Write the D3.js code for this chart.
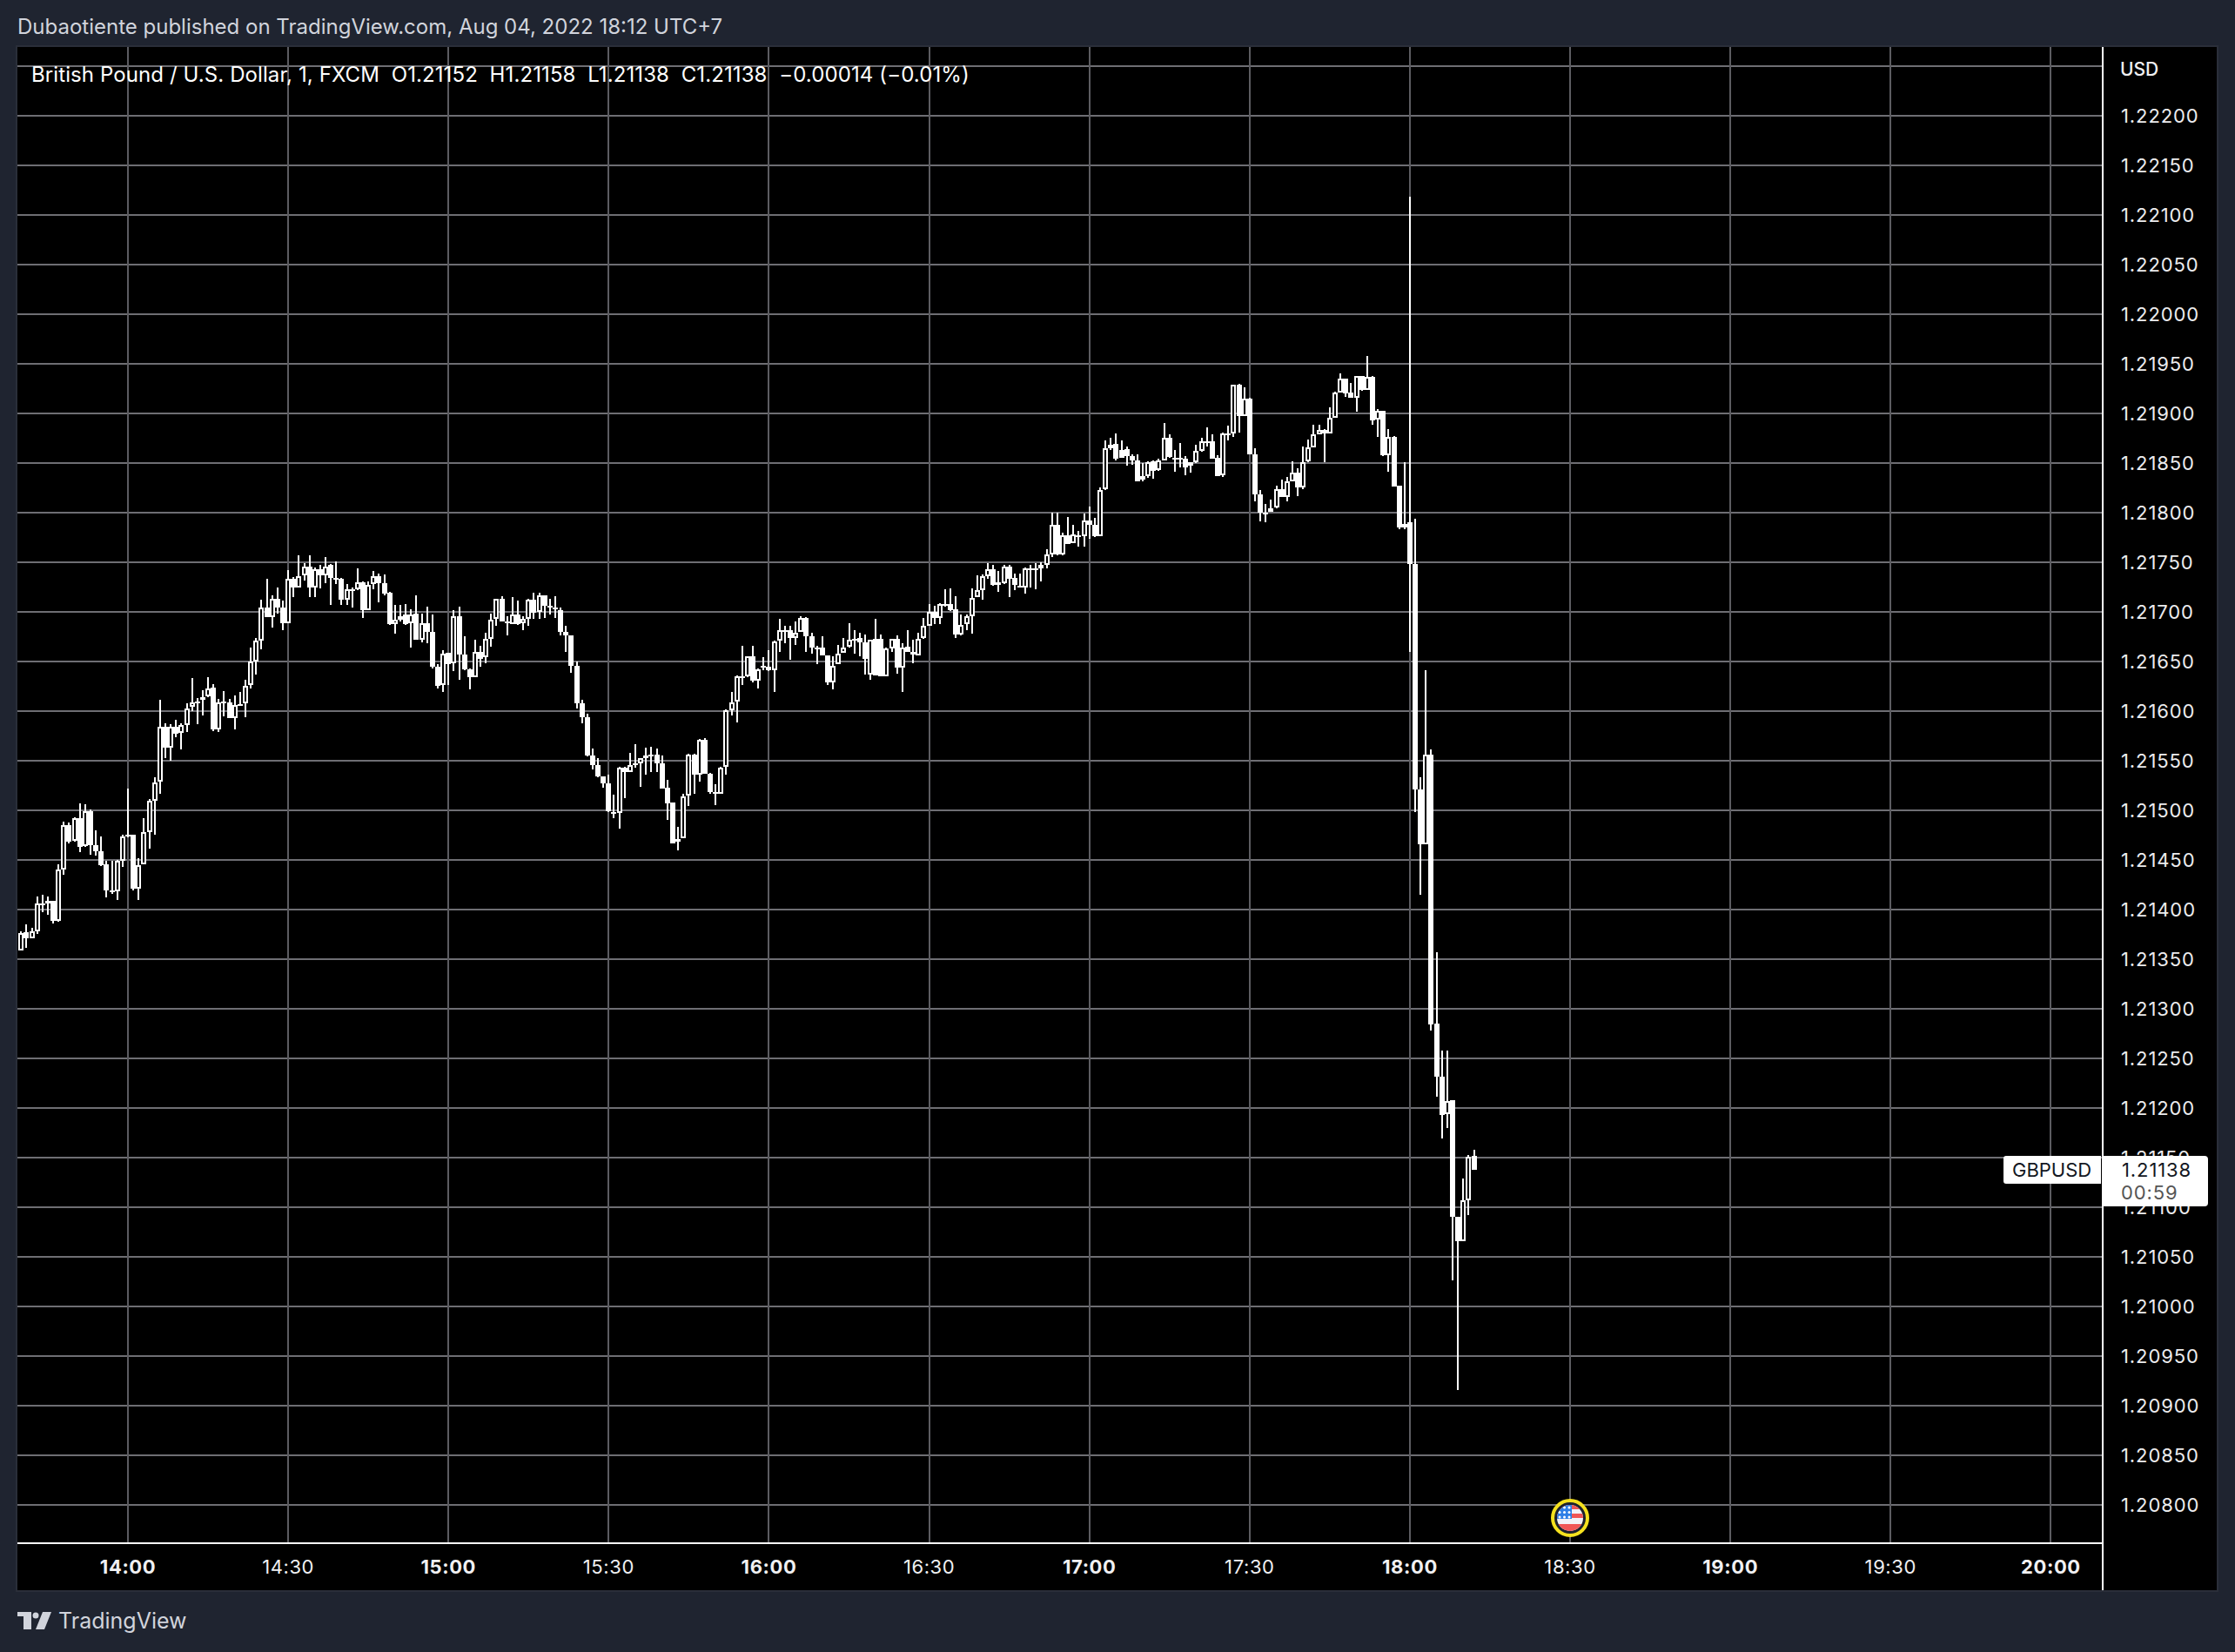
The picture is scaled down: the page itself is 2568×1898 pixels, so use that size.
<!DOCTYPE html>
<html lang="en">

<head>
    <meta charset="utf-8">
    <script src="https://d3js.org/d3.v7.min.js"></script>
    <style>
        body { margin: 0; background: #1f2430; }
        text { font-family: Inter, "Noto Sans", sans-serif; white-space: pre; }
    </style>
</head>

<body>

    <script>

        // one bar a minute, first bar is 20 minutes before 14:00
        const firstMinute = -20;

        const opens = [
            1.21359,1.21377,1.21371,1.21378,1.21406,1.21409,1.21409,1.21389,1.21440,1.21485,
            1.21469,1.21492,1.21464,1.21499,1.21465,1.21459,1.21446,1.21419,1.21418,1.21449,
            1.21474,1.21475,1.21421,1.21446,1.21478,1.21510,1.21529,1.21584,1.21563,1.21584,
            1.21578,1.21586,1.21604,1.21609,1.21611,1.21615,1.21624,1.21582,1.21609,1.21609,
            1.21593,1.21606,1.21608,1.21626,1.21650,1.21671,1.21704,1.21695,1.21713,1.21704,
            1.21689,1.21733,1.21725,1.21737,1.21746,1.21725,1.21743,1.21737,1.21747,1.21734,
            1.21733,1.21712,1.21723,1.21723,1.21730,1.21702,1.21728,1.21736,1.21729,1.21719,
            1.21688,1.21692,1.21697,1.21689,1.21698,1.21672,1.21689,1.21680,1.21645,1.21626,
            1.21659,1.21648,1.21696,1.21657,1.21642,1.21634,1.21660,1.21654,1.21673,1.21693,
            1.21713,1.21690,1.21688,1.21697,1.21689,1.21693,1.21712,1.21700,1.21717,1.21706,
            1.21704,1.21702,1.21680,1.21676,1.21646,1.21608,1.21594,1.21555,1.21546,1.21534,
            1.21527,1.21498,1.21497,1.21543,1.21539,1.21546,1.21547,1.21553,1.21555,1.21556,
            1.21547,1.21523,1.21508,1.21468,1.21472,1.21515,1.21556,1.21536,1.21571,1.21537,
            1.21518,1.21517,1.21544,1.21601,1.21610,1.21635,1.21635,1.21655,1.21631,1.21646,
            1.21645,1.21641,1.21671,1.21682,1.21682,1.21674,1.21680,1.21694,1.21675,1.21664,
            1.21664,1.21656,1.21629,1.21647,1.21659,1.21665,1.21673,1.21674,1.21669,1.21637,
            1.21673,1.21673,1.21635,1.21663,1.21673,1.21644,1.21665,1.21660,1.21656,1.21674,
            1.21686,1.21700,1.21694,1.21708,1.21708,1.21703,1.21677,1.21688,1.21696,1.21715,
            1.21722,1.21736,1.21743,1.21727,1.21729,1.21746,1.21734,1.21726,1.21725,1.21744,
            1.21744,1.21747,1.21747,1.21758,1.21788,1.21758,1.21777,1.21769,1.21777,1.21776,
            1.21792,1.21788,1.21776,1.21824,1.21865,1.21869,1.21863,1.21864,1.21857,1.21853,
            1.21833,1.21837,1.21852,1.21843,1.21853,1.21875,1.21855,1.21855,1.21854,1.21847,
            1.21851,1.21862,1.21872,1.21872,1.21855,1.21838,1.21880,1.21880,1.21929,1.21897,
            1.21915,1.21859,1.21818,1.21800,1.21801,1.21805,1.21824,1.21816,1.21832,1.21840,
            1.21825,1.21852,1.21866,1.21879,1.21883,1.21880,1.21896,1.21921,1.21935,1.21921,
            1.21916,1.21938,1.21924,1.21937,1.21894,1.21903,1.21858,1.21876,1.21827,1.21785,
            1.21790,1.21748,1.21521,1.21466,1.21556,1.21285,1.21232,1.21194,1.21208,1.21090,1.21066,1.21107,1.21152
        ];

        const highs = [
            1.21378,1.21385,1.21382,1.21413,1.21415,1.21413,1.21409,1.21446,1.21489,1.21488,
            1.21493,1.21507,1.21506,1.21501,1.21480,1.21474,1.21449,1.21449,1.21450,1.21475,
            1.21522,1.21475,1.21452,1.21492,1.21511,1.21533,1.21611,1.21588,1.21587,1.21591,
            1.21588,1.21608,1.21633,1.21613,1.21621,1.21634,1.21627,1.21612,1.21620,1.21612,
            1.21616,1.21619,1.21632,1.21664,1.21674,1.21712,1.21733,1.21717,1.21725,1.21711,
            1.21742,1.21735,1.21757,1.21749,1.21757,1.21745,1.21747,1.21755,1.21748,1.21751,
            1.21734,1.21728,1.21725,1.21744,1.21731,1.21731,1.21741,1.21739,1.21738,1.21720,
            1.21707,1.21707,1.21708,1.21703,1.21717,1.21698,1.21705,1.21697,1.21647,1.21661,
            1.21659,1.21702,1.21705,1.21675,1.21643,1.21672,1.21666,1.21679,1.21698,1.21713,
            1.21716,1.21696,1.21715,1.21711,1.21696,1.21713,1.21719,1.21719,1.21717,1.21713,
            1.21716,1.21704,1.21686,1.21676,1.21650,1.21611,1.21597,1.21562,1.21553,1.21534,
            1.21536,1.21516,1.21544,1.21544,1.21558,1.21567,1.21553,1.21563,1.21564,1.21562,
            1.21555,1.21531,1.21508,1.21483,1.21517,1.21557,1.21557,1.21572,1.21573,1.21538,
            1.21526,1.21544,1.21602,1.21619,1.21636,1.21666,1.21655,1.21666,1.21643,1.21654,
            1.21661,1.21671,1.21693,1.21686,1.21686,1.21690,1.21696,1.21695,1.21679,1.21666,
            1.21675,1.21656,1.21655,1.21667,1.21674,1.21689,1.21682,1.21679,1.21677,1.21672,
            1.21693,1.21677,1.21664,1.21673,1.21676,1.21668,1.21682,1.21672,1.21679,1.21694,
            1.21708,1.21706,1.21709,1.21723,1.21724,1.21716,1.21697,1.21697,1.21724,1.21737,
            1.21738,1.21749,1.21747,1.21741,1.21747,1.21747,1.21739,1.21739,1.21745,1.21747,
            1.21749,1.21750,1.21763,1.21800,1.21800,1.21780,1.21796,1.21788,1.21782,1.21799,
            1.21806,1.21795,1.21825,1.21873,1.21875,1.21880,1.21873,1.21867,1.21859,1.21859,
            1.21850,1.21852,1.21853,1.21854,1.21890,1.21879,1.21863,1.21870,1.21857,1.21851,
            1.21868,1.21875,1.21886,1.21879,1.21858,1.21881,1.21888,1.21929,1.21930,1.21926,
            1.21916,1.21865,1.21823,1.21809,1.21813,1.21827,1.21833,1.21836,1.21852,1.21845,
            1.21867,1.21874,1.21889,1.21889,1.21884,1.21906,1.21922,1.21940,1.21935,1.21931,
            1.21938,1.21938,1.21958,1.21938,1.21904,1.21903,1.21884,1.21877,1.21827,1.21851,
            1.22118,1.21794,1.21533,1.21641,1.21561,1.21357,1.21258,1.21258,1.21208,1.21090,1.21129,1.21153,1.21158
        ];

        const lows = [
            1.21359,1.21361,1.21371,1.21375,1.21397,1.21395,1.21386,1.21388,1.21435,1.21467,
            1.21468,1.21458,1.21463,1.21455,1.21454,1.21444,1.21412,1.21416,1.21410,1.21443,
            1.21473,1.21419,1.21410,1.21446,1.21461,1.21475,1.21517,1.21553,1.21550,1.21574,
            1.21561,1.21579,1.21600,1.21587,1.21596,1.21614,1.21580,1.21579,1.21595,1.21593,
            1.21582,1.21605,1.21594,1.21623,1.21637,1.21662,1.21695,1.21684,1.21698,1.21682,
            1.21689,1.21715,1.21725,1.21732,1.21715,1.21715,1.21724,1.21729,1.21707,1.21728,
            1.21707,1.21707,1.21704,1.21722,1.21694,1.21702,1.21723,1.21710,1.21717,1.21687,
            1.21678,1.21690,1.21687,1.21664,1.21672,1.21669,1.21668,1.21643,1.21623,1.21619,
            1.21626,1.21640,1.21632,1.21641,1.21622,1.21634,1.21645,1.21648,1.21665,1.21686,
            1.21690,1.21676,1.21688,1.21687,1.21682,1.21686,1.21693,1.21693,1.21694,1.21697,
            1.21694,1.21676,1.21660,1.21639,1.21603,1.21588,1.21554,1.21541,1.21533,1.21523,
            1.21498,1.21492,1.21482,1.21512,1.21539,1.21543,1.21524,1.21536,1.21539,1.21539,
            1.21522,1.21490,1.21467,1.21460,1.21472,1.21504,1.21517,1.21529,1.21537,1.21517,
            1.21505,1.21517,1.21536,1.21596,1.21589,1.21626,1.21634,1.21629,1.21623,1.21641,
            1.21640,1.21619,1.21660,1.21668,1.21652,1.21667,1.21680,1.21660,1.21658,1.21647,
            1.21656,1.21626,1.21622,1.21647,1.21659,1.21664,1.21658,1.21655,1.21637,1.21632,
            1.21636,1.21635,1.21635,1.21660,1.21638,1.21619,1.21660,1.21648,1.21656,1.21673,
            1.21686,1.21688,1.21688,1.21705,1.21701,1.21674,1.21676,1.21682,1.21678,1.21715,
            1.21712,1.21733,1.21726,1.21720,1.21728,1.21715,1.21722,1.21725,1.21718,1.21725,
            1.21723,1.21731,1.21744,1.21755,1.21757,1.21757,1.21768,1.21769,1.21766,1.21766,
            1.21774,1.21775,1.21776,1.21823,1.21863,1.21853,1.21855,1.21847,1.21848,1.21832,
            1.21832,1.21835,1.21834,1.21842,1.21853,1.21855,1.21841,1.21846,1.21838,1.21840,
            1.21850,1.21861,1.21867,1.21854,1.21837,1.21836,1.21873,1.21876,1.21881,1.21897,
            1.21859,1.21811,1.21791,1.21790,1.21801,1.21804,1.21816,1.21811,1.21832,1.21817,
            1.21824,1.21851,1.21866,1.21879,1.21851,1.21880,1.21896,1.21921,1.21917,1.21916,
            1.21902,1.21923,1.21924,1.21889,1.21876,1.21857,1.21841,1.21826,1.21783,1.21783,
            1.21660,1.21498,1.21415,1.21466,1.21278,1.21211,1.21169,1.21180,1.21026,1.20916,1.21066,1.21092,1.21138
        ];

        const closes = [
            1.21376,1.21371,1.21378,1.21406,1.21406,1.21406,1.21389,1.21440,1.21485,1.21468,
            1.21492,1.21463,1.21499,1.21465,1.21459,1.21445,1.21419,1.21418,1.21449,1.21474,
            1.21475,1.21421,1.21445,1.21478,1.21510,1.21528,1.21584,1.21563,1.21584,1.21577,
            1.21586,1.21603,1.21609,1.21610,1.21614,1.21623,1.21582,1.21609,1.21610,1.21593,
            1.21606,1.21607,1.21625,1.21650,1.21671,1.21704,1.21695,1.21713,1.21704,1.21689,
            1.21733,1.21725,1.21736,1.21746,1.21725,1.21743,1.21737,1.21746,1.21734,1.21733,
            1.21712,1.21723,1.21723,1.21730,1.21702,1.21727,1.21736,1.21729,1.21718,1.21688,
            1.21692,1.21696,1.21688,1.21697,1.21672,1.21689,1.21680,1.21645,1.21625,1.21658,
            1.21647,1.21696,1.21657,1.21642,1.21634,1.21660,1.21653,1.21673,1.21692,1.21713,
            1.21690,1.21689,1.21697,1.21688,1.21693,1.21712,1.21699,1.21717,1.21706,1.21706,
            1.21704,1.21680,1.21676,1.21646,1.21608,1.21594,1.21555,1.21546,1.21534,1.21527,
            1.21499,1.21498,1.21543,1.21539,1.21546,1.21547,1.21553,1.21555,1.21556,1.21547,
            1.21522,1.21507,1.21467,1.21471,1.21514,1.21556,1.21536,1.21571,1.21537,1.21518,
            1.21517,1.21543,1.21601,1.21609,1.21635,1.21635,1.21655,1.21631,1.21642,1.21646,
            1.21641,1.21670,1.21682,1.21682,1.21674,1.21679,1.21694,1.21675,1.21664,1.21664,
            1.21656,1.21629,1.21646,1.21658,1.21664,1.21672,1.21673,1.21669,1.21653,1.21672,
            1.21636,1.21635,1.21663,1.21673,1.21644,1.21664,1.21660,1.21657,1.21673,1.21686,
            1.21700,1.21694,1.21708,1.21708,1.21702,1.21677,1.21687,1.21696,1.21714,1.21722,
            1.21736,1.21743,1.21727,1.21730,1.21746,1.21733,1.21727,1.21726,1.21744,1.21744,
            1.21744,1.21744,1.21758,1.21788,1.21758,1.21777,1.21768,1.21778,1.21777,1.21792,
            1.21788,1.21776,1.21823,1.21865,1.21868,1.21854,1.21855,1.21857,1.21853,1.21832,
            1.21837,1.21851,1.21842,1.21853,1.21875,1.21856,1.21855,1.21854,1.21846,1.21851,
            1.21862,1.21872,1.21872,1.21854,1.21837,1.21880,1.21880,1.21929,1.21897,1.21915,
            1.21859,1.21818,1.21800,1.21800,1.21804,1.21824,1.21816,1.21832,1.21840,1.21825,
            1.21851,1.21866,1.21879,1.21883,1.21880,1.21896,1.21921,1.21935,1.21920,1.21916,
            1.21938,1.21924,1.21937,1.21893,1.21903,1.21858,1.21876,1.21826,1.21785,1.21789,
            1.21748,1.21521,1.21466,1.21556,1.21284,1.21232,1.21193,1.21207,1.21090,1.21066,1.21107,1.21151,1.21138
        ];

        const priceTicks = [
            1.2225,1.222,1.2215,1.221,1.2205,1.22,1.2195,1.219,1.2185,1.218,
            1.2175,1.217,1.2165,1.216,1.2155,1.215,1.2145,1.214,1.2135,1.213,
            1.2125,1.212,1.2115,1.211,1.2105,1.21,1.2095,1.209,1.2085,1.208
        ];
        const timeTicks = [0, 30, 60, 90, 120, 150, 180, 210, 240, 270, 300, 330, 360];
        const timeLabels = ["14:00", "14:30", "15:00", "15:30", "16:00", "16:30", "17:00", "17:30", "18:00", "18:30", "19:00", "19:30", "20:00"];

        const title = "Dubaotiente published on TradingView.com, Aug 04, 2022 18:12 UTC+7";
        const legend = "British Pound / U.S. Dollar, 1, FXCM  O1.21152  H1.21158  L1.21138  C1.21138  \u22120.00014 (\u22120.01%)";

        const width = 2568;
        const height = 1898;
        const plot = { left: 20, top: 54, right: 2547, bottom: 1827, priceAxis: 2416, timeAxis: 1773 };

        const x = d3.scaleLinear().domain([0, 360]).range([147, 2356.4]);
        const y = d3.scaleLinear().domain([1.222, 1.208]).range([133, 1729]);

        const svg = d3.select("body").append("svg")
            .attr("width", width)
            .attr("height", height)
            .style("display", "block");

        svg.append("rect")
            .attr("x", plot.left - 2).attr("y", plot.top - 2)
            .attr("width", plot.right - plot.left + 4).attr("height", plot.bottom - plot.top + 4)
            .attr("fill", "#2a2e39");
        svg.append("rect")
            .attr("x", plot.left).attr("y", plot.top)
            .attr("width", plot.right - plot.left).attr("height", plot.bottom - plot.top)
            .attr("fill", "#000");

        svg.append("clipPath").attr("id", "plotClip").append("rect")
            .attr("x", plot.left).attr("y", plot.top)
            .attr("width", plot.priceAxis - plot.left).attr("height", plot.timeAxis - plot.top);

        // grid, which is also the two axes
        const yAxis = d3.axisRight(y)
            .tickValues(priceTicks)
            .tickSize(plot.priceAxis - plot.left)
            .tickPadding(21)
            .offset(0)
            .tickFormat(d => d > 1.2224 ? "" : d.toFixed(5));

        const xAxis = d3.axisBottom(x)
            .tickValues(timeTicks)
            .tickSize(plot.timeAxis - plot.top)
            .tickPadding(19)
            .offset(0)
            .tickFormat((d, i) => timeLabels[i]);

        const gy = svg.append("g").attr("transform", "translate(" + plot.left + ",0)").call(yAxis);
        const gx = svg.append("g").attr("transform", "translate(0," + plot.top + ")").call(xAxis);
        gy.select(".domain").remove();
        gx.select(".domain").remove();
        gy.selectAll(".tick line")
            .attr("stroke", "#6e6e73")
            .attr("stroke-width", 2)
            .attr("shape-rendering", "crispEdges");
        gx.selectAll(".tick line")
            .attr("stroke", "#5c5c61")
            .attr("stroke-width", 2)
            .attr("shape-rendering", "crispEdges");
        gy.selectAll("text")
            .attr("dy", "0.38em")
            .attr("fill", "#ececee")
            .attr("font-size", 22)
            .style("letter-spacing", "0.9px");
        gx.selectAll("text")
            .attr("fill", "#f0f0f2")
            .attr("font-size", 22)
            .attr("font-weight", (d, i) => d % 60 === 0 ? 700 : 400)
            .style("letter-spacing", "0.6px");

        // candles
        const bars = svg.append("g")
            .attr("clip-path", "url(#plotClip)")
            .selectAll("g")
            .data(opens)
            .enter()
            .append("g");

        const barX = (d, i) => Math.round(x(firstMinute + i));
        const bodyTop = (d, i) => Math.round(y(Math.max(d, closes[i])));
        const bodyBottom = (d, i) => Math.max(Math.round(y(Math.min(d, closes[i]))), bodyTop(d, i) + 2);

        bars.append("rect")
            .attr("x", (d, i) => barX(d, i) - 1)
            .attr("y", (d, i) => Math.round(y(highs[i])))
            .attr("width", 2)
            .attr("height", (d, i) => Math.max(Math.round(y(lows[i])) - Math.round(y(highs[i])), 2))
            .attr("fill", "#fff");

        bars.append("rect")
            .attr("x", (d, i) => barX(d, i) - 3)
            .attr("y", bodyTop)
            .attr("width", 6)
            .attr("height", (d, i) => bodyBottom(d, i) - bodyTop(d, i))
            .attr("fill", "#fff");

        // up candles are hollow
        bars.filter((d, i) => closes[i] > d && bodyBottom(d, i) - bodyTop(d, i) > 4)
            .append("rect")
            .attr("x", function () { return +d3.select(this.parentNode).select("rect:nth-child(2)").attr("x") + 2; })
            .attr("y", function () { return +d3.select(this.parentNode).select("rect:nth-child(2)").attr("y") + 2; })
            .attr("width", 2)
            .attr("height", function () { return +d3.select(this.parentNode).select("rect:nth-child(2)").attr("height") - 4; })
            .attr("fill", "#000");

        // axis lines
        svg.append("rect").attr("x", plot.left).attr("y", plot.timeAxis - 1)
            .attr("width", plot.priceAxis - plot.left).attr("height", 2).attr("fill", "#fff");
        svg.append("rect").attr("x", plot.priceAxis - 1).attr("y", plot.top)
            .attr("width", 2).attr("height", plot.bottom - plot.top).attr("fill", "#fff");

        // header and legend
        svg.append("text").attr("x", 20).attr("y", 39)
            .attr("font-size", 24).attr("fill", "#d1d4dc").text(title);
        svg.append("text").attr("x", 36).attr("y", 94)
            .attr("font-size", 24).attr("fill", "#fff").style("letter-spacing", "0.1px").text(legend);
        svg.append("text").attr("x", 2436).attr("y", 87)
            .attr("font-size", 21).attr("font-weight", 500).attr("fill", "#f0f0f2").text("USD");

        // last price tags
        svg.append("path")
            .attr("d", "M2414,1328H2305a3,3 0 0 0 -3,3V1357a3,3 0 0 0 3,3H2414Z")
            .attr("fill", "#fff");
        svg.append("path")
            .attr("d", "M2417,1328H2533a4,4 0 0 1 4,4V1382a4,4 0 0 1 -4,4H2417Z")
            .attr("fill", "#fff");
        svg.append("text").attr("x", 2312).attr("y", 1352)
            .attr("font-size", 22).attr("fill", "#131722").text("GBPUSD");
        svg.append("text").attr("x", 2438).attr("y", 1352)
            .attr("font-size", 22).attr("fill", "#131722").style("letter-spacing", "0.9px").text("1.21138");
        svg.append("text").attr("x", 2437).attr("y", 1378)
            .attr("font-size", 22).attr("fill", "#555").style("letter-spacing", "0.9px").text("00:59");

        // news marker
        const flag = svg.append("g").attr("transform", "translate(1804,1744)");
        svg.append("clipPath").attr("id", "flagClip").append("circle").attr("r", 15);
        flag.append("circle").attr("r", 20).attr("fill", "#1e222d").attr("stroke", "#f5e11e").attr("stroke-width", 4);
        const flagInner = flag.append("g").attr("clip-path", "url(#flagClip)");
        flagInner.append("rect").attr("x", -16).attr("y", -16).attr("width", 32).attr("height", 32).attr("fill", "#f2f2f7");
        flagInner.append("rect").attr("x", -16).attr("y", -16).attr("width", 32).attr("height", 6).attr("fill", "#f05656");
        flagInner.append("rect").attr("x", -16).attr("y", -5).attr("width", 32).attr("height", 5).attr("fill", "#f05656");
        flagInner.append("rect").attr("x", -16).attr("y", 7).attr("width", 32).attr("height", 9).attr("fill", "#f05656");
        flagInner.append("rect").attr("x", -16).attr("y", -16).attr("width", 18).attr("height", 17).attr("fill", "#2f7fe6");
        [-11, -5.5, 0].forEach(function (sy) {
            [-11, -5.5, 0].forEach(function (sx) {
                flagInner.append("circle").attr("cx", sx - 1).attr("cy", sy - 1).attr("r", 1.5).attr("fill", "#fff");
            });
        });

        // footer logo
        const logo = svg.append("g").attr("fill", "#d1d4dc");
        logo.append("path").attr("d", "M20,1852H36V1872H27V1857H20Z");
        logo.append("circle").attr("cx", 41).attr("cy", 1856).attr("r", 3.5);
        logo.append("path").attr("d", "M49,1852H59L51,1872H41Z");
        svg.append("text").attr("x", 67).attr("y", 1871)
            .attr("font-size", 25).attr("fill", "#d1d4dc").text("TradingView");

    </script>

</body>

</html>
